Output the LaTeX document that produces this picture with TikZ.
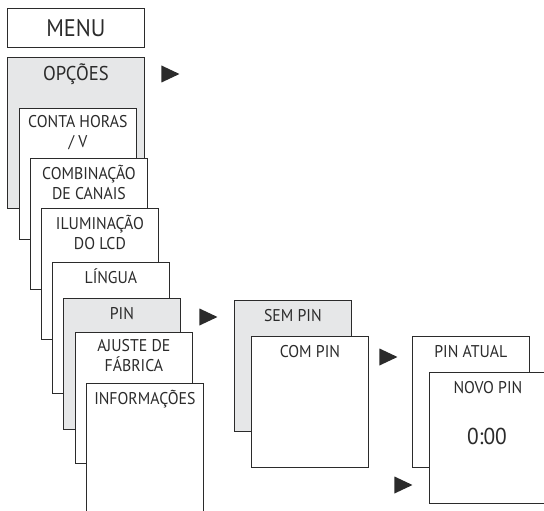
\documentclass[tikz,border=0pt]{standalone}
\usepackage{fontspec}
\setmainfont{PT Sans}[FakeStretch=0.93]
\usetikzlibrary{shapes.geometric}
\definecolor{screengray}{HTML}{E6E7E8}
\definecolor{ink}{HTML}{2B2B2B}
\tikzstyle{screen}=[draw=ink,line width=0.8pt,fill=white,text=ink,anchor=north west,inner sep=0pt,minimum width=117pt,minimum height=131pt]
\tikzstyle{screentext}=[anchor=north,inner sep=0pt,align=center,text=ink,font=\fontsize{17}{20}\selectfont,execute at begin node={\vphantom{Ã}}]
\tikzstyle{pointer}=[isosceles triangle,isosceles triangle stretches,fill=ink,draw=none,inner sep=0pt,minimum width=17pt,minimum height=18pt,anchor=apex]
% one display screen with its title at the top
\newcommand*{\screen}[5]{
  \node[screen,fill=#4] (#1) at (#2,#3) {};
  \node[screentext] (#1_t) at ([yshift=-7pt]#1.north) {#5};
}

\begin{document}
\begin{tikzpicture}[x=1pt,y=-1pt]
  \clip (0,0) rectangle (544,511);
  % top level
  \node[screen,minimum width=137pt,minimum height=39pt,font=\fontsize{24}{28}\selectfont] (menu) at (7,8) {MENU};
  \node[screen,fill=screengray,minimum width=137pt,minimum height=151pt] (opcoes) at (7,57) {};
  \node[screentext,font=\fontsize{20}{24}\selectfont] (opcoes_t) at ([yshift=-7pt]opcoes.north) {OPÇÕES};
  \node[pointer] (p1) at (180,74) {};
  % options stack
  \screen{conta}{19}{108}{white}{CONTA HORAS\\/ V}
  \screen{comb}{30}{158}{white}{COMBINAÇÃO\\DE CANAIS}
  \screen{ilum}{41}{208}{white}{ILUMINAÇÃO\\DO LCD}
  \screen{lingua}{52}{262}{white}{LÍNGUA}
  \screen{pin}{63}{298}{screengray}{PIN}
  \screen{ajuste}{75}{332}{white}{AJUSTE DE\\FÁBRICA}
  \screen{info}{86}{383}{white}{INFORMAÇÕES}
  \node[pointer] (p2) at (218,317) {};
  % pin choice
  \screen{sempin}{234}{300}{screengray}{SEM PIN}
  \screen{compin}{251}{336}{white}{COM PIN}
  \node[pointer] (p3) at (398,357) {};
  % pin entry
  \screen{pinatual}{412}{336}{white}{PIN ATUAL}
  \screen{novopin}{429}{372}{white}{NOVO PIN}
  \node[text=ink,font=\fontsize{23}{26}\selectfont] (clock) at (487,436) {0:00};
  \node[pointer] (p4) at (413,485) {};
\end{tikzpicture}
\end{document}
